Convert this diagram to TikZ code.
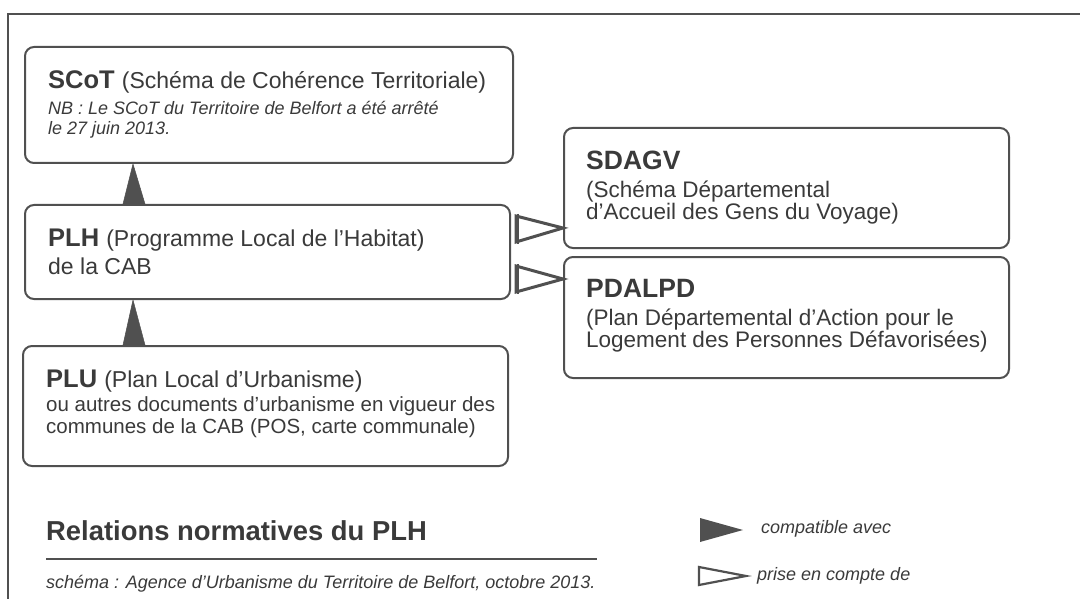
\documentclass[tikz,border=0pt]{standalone}
\usepackage{fontspec}
\setmainfont{Liberation Sans}
\definecolor{ink}{HTML}{3A3A3A}
\definecolor{edge}{HTML}{505050}
\newcommand{\fs}[1]{\fontsize{#1}{#1}\selectfont}
\begin{document}
\begin{tikzpicture}[x=1pt,y=-1pt,
  box/.style={draw=edge, line width=2pt, rounded corners=9pt, anchor=north west, inner sep=0pt},
  txt/.style={anchor=base west, inner sep=0pt, text=ink},
  compat/.style={fill=edge, draw=edge, line width=0.5pt, line join=miter},
  prise/.style={draw=edge, line width=3pt, line join=miter, miter limit=20},
  bar/.style={draw=edge, line width=2pt},
]
\useasboundingbox (0,0) rectangle (1080,599);
% frame
\draw[edge, line width=1.5pt] (8,599) -- (8,14) -- (1080,14);

% boxes
\node[box, minimum width=488pt, minimum height=116pt] (scot) at (24,46) {};
\node[box, minimum width=485pt, minimum height=94pt] (plh) at (24,204) {};
\node[box, minimum width=485pt, minimum height=120pt] (plu) at (22,345) {};
\node[box, minimum width=445pt, minimum height=120pt] (sdagv) at (563,127) {};
\node[box, minimum width=445pt, minimum height=121pt] (pdalpd) at (563,256) {};

% texts
\node[txt] (scot1) at (48,89) {\fs{25.5}\textbf{SCoT} \fs{23}(Schéma de Cohérence Territoriale)};
\node[txt] (scot2) at (48,115) {\fs{18}\itshape NB : Le SCoT du Territoire de Belfort a été arrêté};
\node[txt] (scot3) at (48,135) {\fs{18}\itshape le 27 juin 2013.};

\node[txt] (plh1) at (48,247) {\fs{25.5}\textbf{PLH} \fs{23}(Programme Local de l'Habitat)};
\node[txt] (plh2) at (48,274) {\fs{23}de la CAB};

\node[txt] (plu1) at (46,387) {\fs{25.5}\textbf{PLU} \fs{23}(Plan Local d'Urbanisme)};
\node[txt] (plu2) at (46,411) {\fs{20.5}ou autres documents d'urbanisme en vigueur des};
\node[txt] (plu3) at (46,433) {\fs{20.5}communes de la CAB (POS, carte communale)};

\node[txt] (sd1) at (586,170) {\fs{26.5}\textbf{SDAGV}};
\node[txt] (sd2) at (586,197) {\fs{22.5}(Schéma Départemental};
\node[txt] (sd3) at (586,219) {\fs{22.5}d'Accueil des Gens du Voyage)};

\node[txt] (pd1) at (586,298) {\fs{26.5}\textbf{PDALPD}};
\node[txt] (pd2) at (586,325) {\fs{22.5}(Plan Départemental d'Action pour le};
\node[txt] (pd3) at (586,347) {\fs{22.5}Logement des Personnes Défavorisées)};

% connectors: compatible avec (filled)
\draw[compat] ([xshift=99pt]plh.north west) -- ([xshift=109pt]scot.south west) -- ([xshift=121pt]plh.north west) -- cycle;
\draw[compat] ([xshift=101pt]plu.north west) -- ([xshift=109pt]plh.south west) -- ([xshift=123pt]plu.north west) -- cycle;
% connectors: prise en compte de (open)
\draw[prise] ([xshift=5pt,yshift=-12pt]plh.north east) -- ([yshift=-101pt]sdagv.north west) -- ([xshift=5pt,yshift=-38pt]plh.north east) -- cycle;
\draw[bar] ([xshift=7pt,yshift=-10pt]plh.north east) -- ([xshift=7pt,yshift=-40pt]plh.north east);
\draw[prise] ([xshift=5pt,yshift=-62pt]plh.north east) -- ([yshift=-23pt]pdalpd.north west) -- ([xshift=5pt,yshift=-88pt]plh.north east) -- cycle;
\draw[bar] ([xshift=7pt,yshift=-60pt]plh.north east) -- ([xshift=7pt,yshift=-90pt]plh.north east);

% title and caption
\node[txt] (title) at (46,540) {\fs{27.4}\textbf{Relations normatives du PLH}};
\draw[edge, line width=2pt] (46,559) -- (597,559);
\node[txt] (cap) at (46,588) {\fs{18}\itshape schéma : Agence d'Urbanisme du Territoire de Belfort, octobre 2013.};

% legend
\coordinate (la) at (700,518);
\coordinate (lb) at (743,530);
\coordinate (lc) at (700,542);
\fill[edge] (la) -- (lb) -- (lc) -- cycle;
\coordinate (ld) at (699,567);
\coordinate (le) at (746,576);
\coordinate (lf) at (699,585);
\draw[prise, line width=2.2pt] (ld) -- (le) -- (lf) -- cycle;
\node[txt] (leg1) at (761,533) {\fs{18}\itshape compatible avec};
\node[txt] (leg2) at (757,580) {\fs{18}\itshape prise en compte de};
\end{tikzpicture}
\end{document}
